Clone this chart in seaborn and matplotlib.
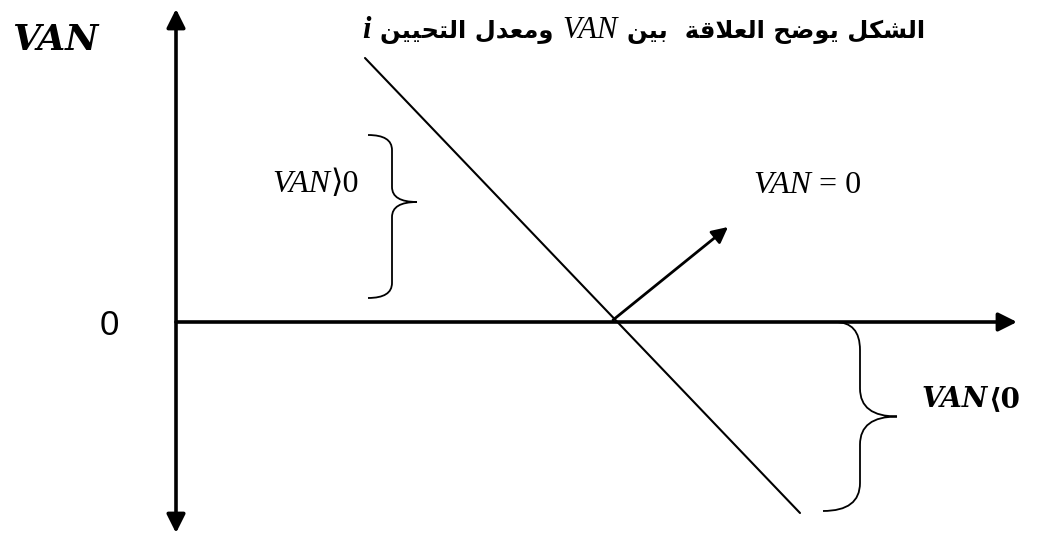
import numpy as np
import matplotlib
matplotlib.use("Agg")
import matplotlib.pyplot as plt
from matplotlib.path import Path
from matplotlib.patches import PathPatch
import seaborn as sns

# data: VAN as a function of the discount rate i (origin = where the axes cross)
rate = [1.89, 6.24]
van = [2.64, -1.91]
irr = 4.37               # VAN = 0 here
pos_band = [0.24, 1.87]  # brace VAN>0
neg_band = [-1.89, 0.0]  # brace VAN<0

title_ar_1 = "الشكل يوضح العلاقة  بين"
title_ar_2 = "ومعدل التحيين"

# arabic presentation forms (isolated code point, joins on both sides)
FORMS = {'ا': (0xFE8D, False), 'ب': (0xFE8F, True), 'ة': (0xFE93, False), 'ت': (0xFE95, True),
         'ح': (0xFEA1, True), 'د': (0xFEA9, False), 'ش': (0xFEB5, True), 'ض': (0xFEBD, True),
         'ع': (0xFEC9, True), 'ق': (0xFED5, True), 'ك': (0xFED9, True), 'ل': (0xFEDD, True),
         'م': (0xFEE1, True), 'ن': (0xFEE5, True), 'و': (0xFEED, False), 'ي': (0xFEF1, True)}


def shape_arabic(text):
    # matplotlib has no shaping, so pick the joined forms by hand and reverse for RTL
    out = []
    prev_joins = False
    k = 0
    while k < len(text):
        ch = text[k]
        if ch not in FORMS:
            out.append(ch)
            prev_joins = False
            k += 1
            continue
        if ch == 'ل' and k + 1 < len(text) and text[k + 1] == 'ا':
            out.append(chr(0xFEFC if prev_joins else 0xFEFB))
            prev_joins = False
            k += 2
            continue
        base, dual = FORMS[ch]
        nxt = text[k + 1] if k + 1 < len(text) else ''
        joins_next = dual and nxt in FORMS
        if prev_joins and joins_next:
            form = base + 3
        elif prev_joins:
            form = base + 1
        elif joins_next:
            form = base + 2
        else:
            form = base
        out.append(chr(form))
        prev_joins = joins_next
        k += 1
    return ''.join(out)[::-1]


sns.set_theme(style="white")
plt.rcParams['font.family'] = ['DejaVu Sans']
plt.rcParams['text.color'] = 'black'

fig = plt.figure(figsize=(10.45, 5.38), dpi=100)
ax = fig.add_axes([0, 0, 1, 1])
ax.set_xlim(-1.76, 8.69)
ax.set_ylim(-2.16, 3.22)
ax.axis('off')

# axes with arrows
ax.annotate("", xy=(0, 3.13), xytext=(0, -2.11),
            arrowprops=dict(arrowstyle='<|-|>', color='black', lw=2.6, mutation_scale=28,
                            shrinkA=0, shrinkB=0))
ax.annotate("", xy=(8.41, 0), xytext=(0, 0),
            arrowprops=dict(arrowstyle='-|>', color='black', lw=2.6, mutation_scale=28,
                            shrinkA=0, shrinkB=0))

# the VAN line
sns.lineplot(x=rate, y=van, ax=ax, color='black', lw=1.5, sort=False)

# arrow pointing to VAN = 0
ax.annotate("", xy=(5.52, 0.95), xytext=(irr, 0.02),
            arrowprops=dict(arrowstyle='-|>', color='black', lw=2.0, mutation_scale=24,
                            shrinkA=0, shrinkB=0))


def brace(x_spine, x_tip, x_hook_top, x_hook_bot, y_top, y_bot, y_tip, r):
    verts = [(x_hook_top, y_top), (x_spine, y_top), (x_spine, y_top - r),
             (x_spine, y_tip + r),
             (x_spine, y_tip), (x_tip, y_tip),
             (x_spine, y_tip), (x_spine, y_tip - r),
             (x_spine, y_bot + r),
             (x_spine, y_bot), (x_hook_bot, y_bot)]
    codes = [Path.MOVETO, Path.CURVE3, Path.CURVE3, Path.LINETO,
             Path.CURVE3, Path.CURVE3, Path.CURVE3, Path.CURVE3,
             Path.LINETO, Path.CURVE3, Path.CURVE3]
    ax.add_patch(PathPatch(Path(verts, codes), fill=False, lw=1.3, ec='black'))


brace(2.16, 2.41, 1.92, 1.92, pos_band[1], pos_band[0], 1.20, 0.15)
brace(6.84, 7.21, 6.59, 6.47, neg_band[1], neg_band[0], sum(neg_band) / 2, 0.28)

fig.canvas.draw()
renderer = fig.canvas.get_renderer()


def chain(x, y, parts, gap=0, align='left'):
    # put text pieces one after the other on a common baseline
    texts = [ax.text(0, y, s, va='baseline', ha='left', **kw) for s, kw in parts]
    widths = [t.get_window_extent(renderer).width for t in texts]
    total = sum(widths) + gap * (len(texts) - 1)
    x_px = ax.transData.transform((x, y))[0]
    if align == 'right':
        x_px -= total
    for t, w in zip(texts, widths):
        t.set_x(ax.transData.inverted().transform((x_px, 0))[0])
        x_px += w + gap


serif = ['Liberation Serif', 'DejaVu Serif', 'DejaVu Sans']
it = dict(family=serif, style='italic', fontsize=23)
up = dict(family=serif, fontsize=23)
bold_it = dict(family=['DejaVu Serif'], style='italic', weight='bold', fontsize=20)
bold_up = dict(family=['DejaVu Serif', 'DejaVu Sans'], weight='bold', fontsize=20)
ar = dict(family=['DejaVu Sans'], weight='bold', fontsize=17.5)

ax.text(-1.64, 2.72, "VAN", family=['DejaVu Serif'], style='italic', weight='bold',
        fontsize=26, va='baseline', ha='left')
ax.text(-0.67, -0.13, "0", family=['Liberation Sans'], fontsize=25, va='baseline', ha='center')

chain(0.96, 1.30, [("VAN", it), ("⟩0", up)])
chain(5.77, 1.29, [("VAN", it), (" = 0", up)])
chain(7.46, -0.85, [("VAN", bold_it), ("⟨0", bold_up)])

chain(7.49, 2.84, [("i", dict(family=serif, style='italic', weight='bold', fontsize=22)),
                   (shape_arabic(title_ar_2), ar),
                   ("VAN", dict(family=serif, style='italic', fontsize=22)),
                   (shape_arabic(title_ar_1), ar)], gap=9, align='right')

fig.savefig("out.png", dpi=100)
